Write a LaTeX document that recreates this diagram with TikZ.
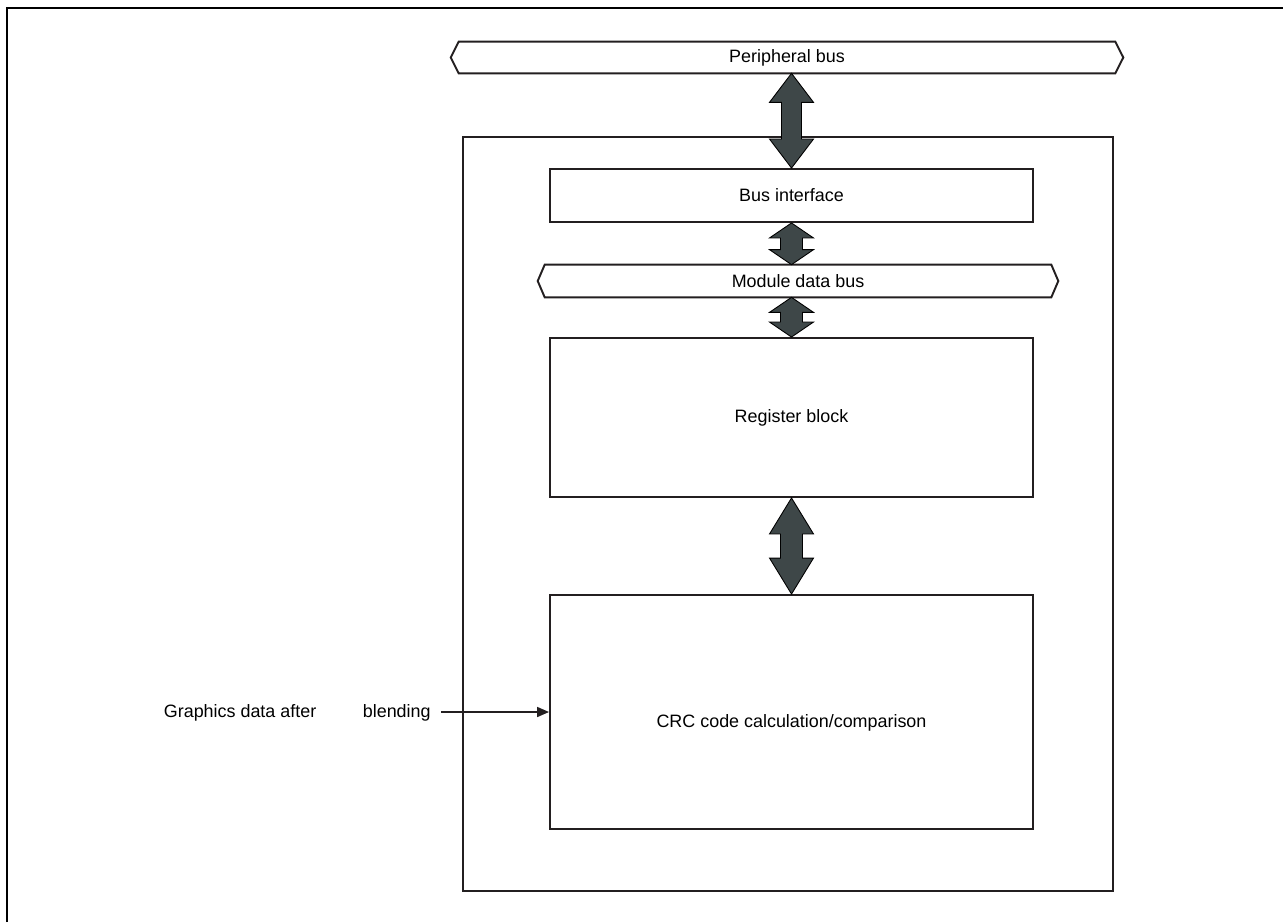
\documentclass[tikz,border=0pt]{standalone}
\usepackage{fontspec}
\setmainfont{Liberation Sans}
\usetikzlibrary{calc,arrows.meta}

\definecolor{arrowgrey}{RGB}{62,71,72}
\definecolor{lineblack}{RGB}{35,31,32}

\tikzset{
  frameline/.style={line width=1.5pt, black},
  blockbox/.style={draw=lineblack, line width=1.1pt, inner sep=0pt},
  busbox/.style={inner sep=0pt},
  busline/.style={draw=lineblack, line width=1.1pt, line join=miter},
  dblfill/.style={fill=arrowgrey, draw=black, line width=0.5pt, line join=miter},
  inarrow/.style={line width=1.1pt, lineblack, -{Triangle[length=6.8pt,width=5.6pt]}},
}

% hexagonal bus outline around a node
\newcommand{\busoutline}[2]{%
  \draw[busline] (#1.west) -- ($(#1.north west)+(#2,0)$) -- ($(#1.north east)+(-#2,0)$)
    -- (#1.east) -- ($(#1.south east)+(-#2,0)$) -- ($(#1.south west)+(#2,0)$) -- cycle;}

% wide double-headed arrow: upper point, lower point, head length, half shaft
\newcommand{\dblarrow}[4]{%
  \filldraw[dblfill] let \p1=#2, \p2=#1 in
    (\x1,\y2) -- ([shift={(22,#3)}]\x1,\y2) -- ([shift={(#4,#3)}]\x1,\y2)
    -- ([shift={(#4,-#3)}]\x1,\y1) -- ([shift={(22,-#3)}]\x1,\y1) -- (\x1,\y1)
    -- ([shift={(-22,-#3)}]\x1,\y1) -- ([shift={(-#4,-#3)}]\x1,\y1)
    -- ([shift={(-#4,#3)}]\x1,\y2) -- ([shift={(-22,#3)}]\x1,\y2) -- cycle;}

\begin{document}
\begin{tikzpicture}[x=0.02cm, y=-0.02cm, font=\fontsize{10.2}{12}\selectfont]
    \useasboundingbox (0,0) rectangle (1283,922);

    % outer frame
    \draw[frameline] (7,922) -- (7,8) -- (1283,8);

    % peripheral bus
    \node[busbox, minimum width=13.44cm, minimum height=0.62cm] (pbus) at (787,57.5) {Peripheral bus};
    \busoutline{pbus}{8}

    % module
    \node[blockbox, minimum width=13cm, minimum height=15.08cm] (module) at (788,514) {};
    \node[blockbox, minimum width=9.66cm, minimum height=1.06cm] (busif) at (791.5,195.5) {Bus interface};
    \node[busbox, minimum width=10.4cm, minimum height=0.64cm] (mbus) at (798,281) {Module data bus};
    \busoutline{mbus}{7}
    \node[blockbox, minimum width=9.66cm, minimum height=3.18cm] (regblk) at (791.5,417.5) {Register block};
    \node[blockbox, minimum width=9.66cm, minimum height=4.68cm] (crc) at (791.5,712) {};
    \node (crclabel) at ($(crc.center)+(0,11)$) {CRC code calculation/comparison};

    % bus arrows
    \dblarrow{(pbus.south)}{(busif.north)}{29}{10}
    \dblarrow{(busif.south)}{(mbus.north -| busif)}{15}{11}
    \dblarrow{(mbus.south -| regblk)}{(regblk.north)}{15}{11}
    \dblarrow{(regblk.south)}{(crc.north)}{36}{11}

    % graphics input
    \coordinate (gin) at (441,712);
    \node[anchor=east, inner sep=0pt] (gtext) at ($(gin)+(-10,1)$) {Graphics data after\hspace{2.6em}blending};
    \draw[inarrow] (gin) -- (crc.west);
\end{tikzpicture}
\end{document}
